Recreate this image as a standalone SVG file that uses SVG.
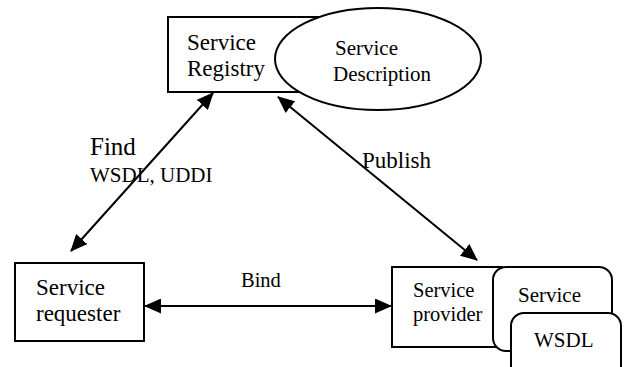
<svg xmlns="http://www.w3.org/2000/svg" width="625" height="367" viewBox="0 0 625 367">
<defs>
<style>
text{font-family:'Liberation Serif','Times New Roman','DejaVu Serif',serif;fill:#000}
.box{fill:#fff;stroke:#000;stroke-width:2}
.ln{stroke:#000;stroke-width:2;fill:none}
</style>
<marker id="ah" viewBox="0 0 17 15" refX="16" refY="7.5" markerWidth="17" markerHeight="15" markerUnits="userSpaceOnUse" orient="auto-start-reverse">
<path d="M0,0 L17,7.5 L0,15 Z" fill="#000"/>
</marker>
</defs>
<g id="connectors">
<line class="ln" x1="71" y1="251" x2="213" y2="93" marker-start="url(#ah)" marker-end="url(#ah)"/>
<line class="ln" x1="278" y1="97" x2="477" y2="260" marker-start="url(#ah)" marker-end="url(#ah)"/>
<line class="ln" x1="145" y1="306" x2="391" y2="306" marker-start="url(#ah)" marker-end="url(#ah)"/>
</g>
<g id="labels">
<text x="90" y="155" font-size="25">Find</text>
<text x="90" y="182" font-size="21">WSDL, UDDI</text>
<text x="362" y="168" font-size="23">Publish</text>
<text x="241" y="287" font-size="20.5">Bind</text>
</g>
<g id="registry">
<rect class="box" x="168" y="17" width="180" height="75"/>
<text x="187" y="50" font-size="23">Service</text>
<text x="187" y="76" font-size="23">Registry</text>
</g>
<g id="description">
<ellipse class="box" cx="378" cy="59" rx="103" ry="51"/>
<text x="335" y="55" font-size="21">Service</text>
<text x="333" y="81" font-size="21">Description</text>
</g>
<g id="requester">
<rect class="box" x="15" y="263" width="129" height="78"/>
<text x="36" y="295" font-size="23">Service</text>
<text x="36" y="321" font-size="23">requester</text>
</g>
<g id="provider">
<rect class="box" x="392" y="267" width="110" height="80"/>
<text x="413" y="297" font-size="20.5">Service</text>
<text x="413" y="321" font-size="20.5">provider</text>
</g>
<g id="service">
<rect class="box" x="493" y="267" width="119" height="84" rx="13"/>
<text x="518" y="302" font-size="21">Service</text>
</g>
<g id="wsdl">
<rect class="box" x="511" y="313" width="110" height="70" rx="13"/>
<text x="534" y="347" font-size="21">WSDL</text>
</g>
</svg>
